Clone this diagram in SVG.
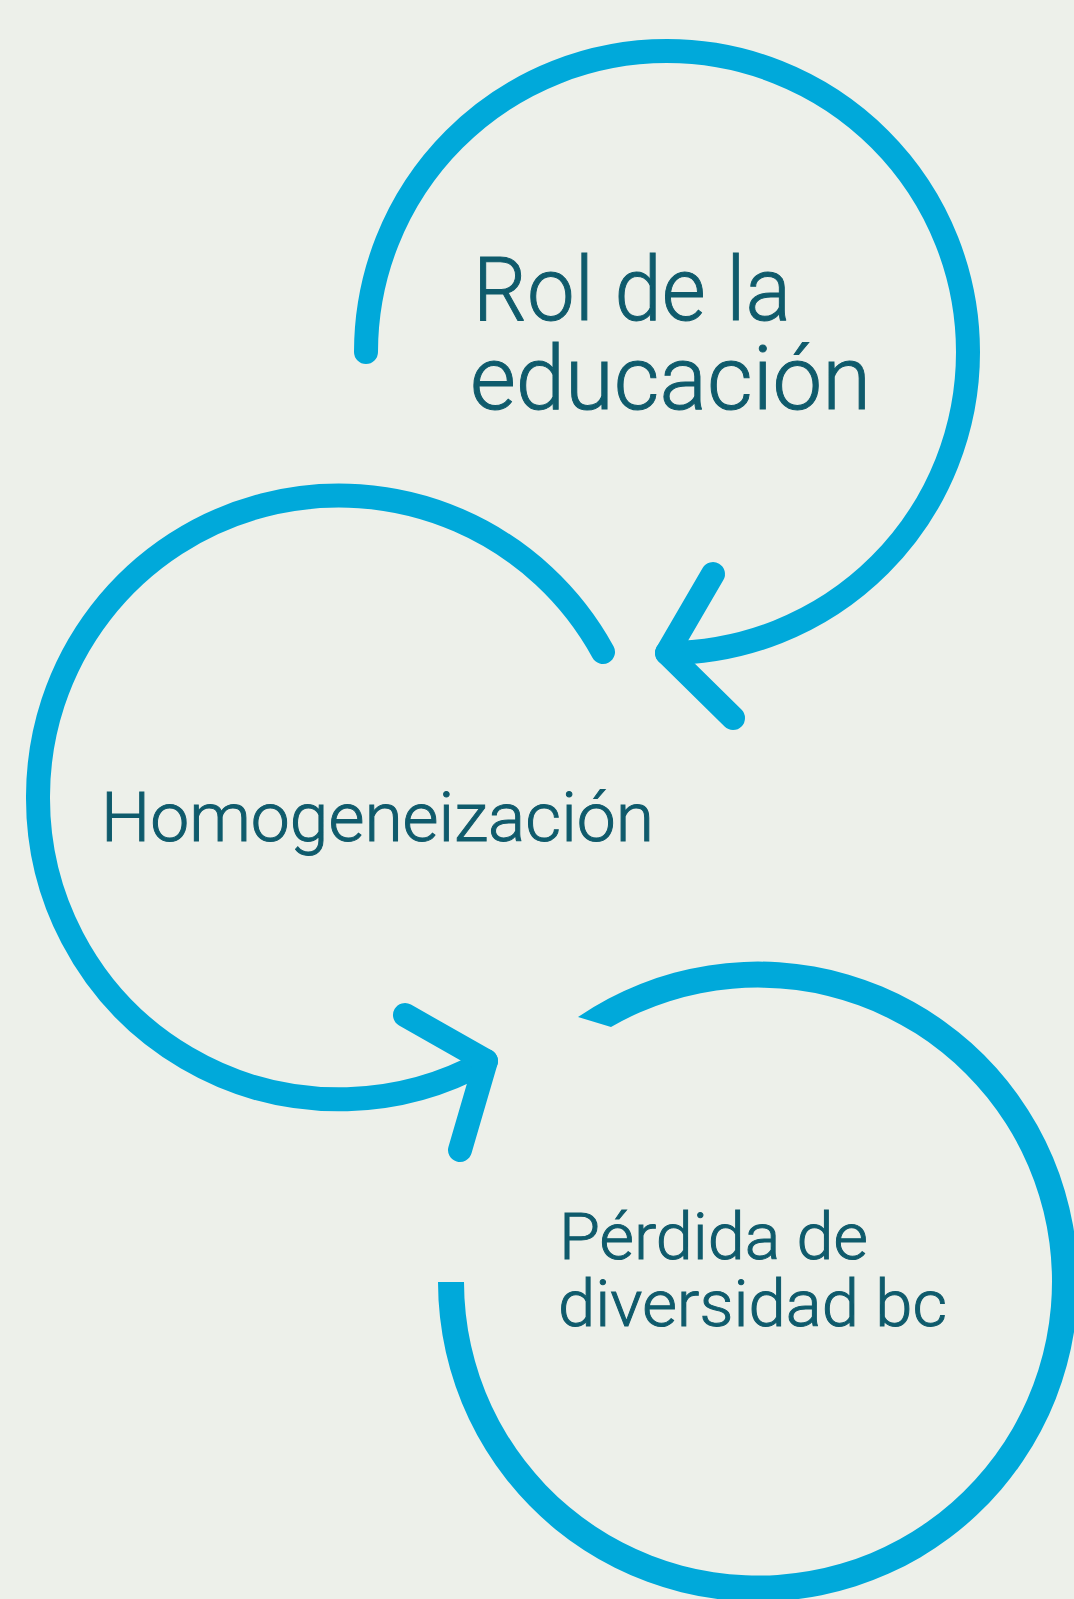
<svg xmlns="http://www.w3.org/2000/svg" width="1074" height="1599" viewBox="0 0 1074 1599">
<style>
.arc{fill:none;stroke:#00a9da;stroke-width:24;stroke-linecap:round;stroke-linejoin:round}
.ring{fill:#00a9da;stroke:none}
.lbl{font-family:Roboto,"Liberation Sans",sans-serif;fill:#0f5b6c;font-weight:300;stroke:#0f5b6c;stroke-width:1}
</style>
<rect width="1074" height="1599" fill="#edf0ea"/>
<g id="connectors">
<path class="arc" d="M366,352 A301,301 0 0 1 968,352 A301,301 0 0 1 667,653"/>
<path class="arc" d="M713,574 L667,653 L733,718"/>
<path class="arc" d="M603,652 A301,301 0 0 0 38,798 A301,301 0 0 0 486,1061"/>
<path class="arc" d="M405,1015 L486,1061 L460,1150"/>
<path class="ring" d="M438,1282 A320,320 0 1 0 578,1017 L611,1027 A294,294 0 1 1 464,1282 Z"/>
</g>
<g id="node-rol">
<text class="lbl" font-size="89" x="473" y="320" textLength="318" lengthAdjust="spacingAndGlyphs">Rol de la</text>
<text class="lbl" font-size="89" x="470" y="409" textLength="401" lengthAdjust="spacingAndGlyphs">educación</text>
</g>
<g id="node-homogeneizacion">
<text class="lbl" font-size="69" x="101" y="841" textLength="553" lengthAdjust="spacingAndGlyphs">Homogeneización</text>
</g>
<g id="node-perdida">
<text class="lbl" font-size="65" x="559" y="1259" textLength="309" lengthAdjust="spacingAndGlyphs">Pérdida de</text>
<text class="lbl" font-size="65" x="558" y="1326" textLength="389" lengthAdjust="spacingAndGlyphs">diversidad bc</text>
</g>
</svg>
